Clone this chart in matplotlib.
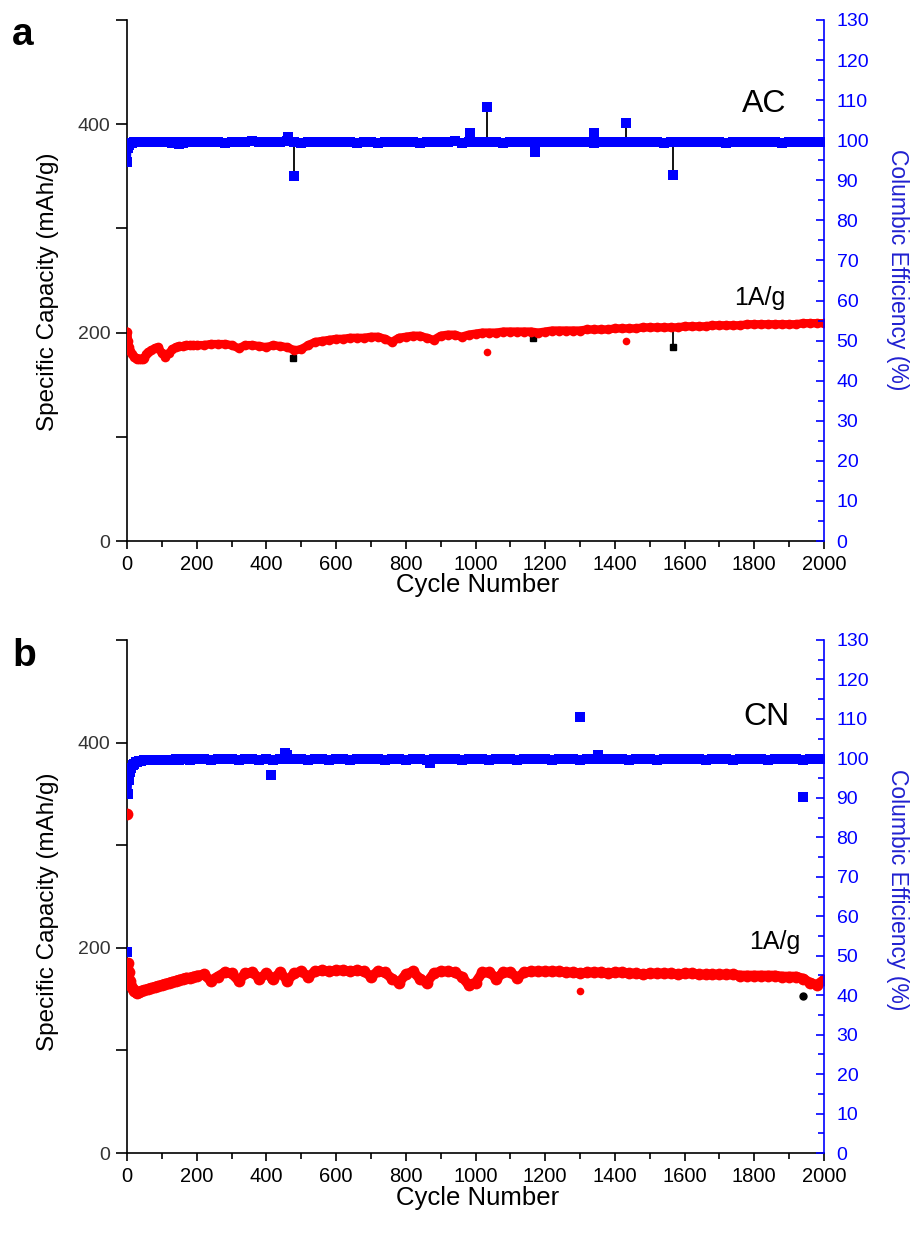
import numpy as np
import matplotlib
matplotlib.use('Agg')
from matplotlib import pyplot as plt
from matplotlib.ticker import MultipleLocator, FixedLocator

plt.rcParams['font.family'] = ['Liberation Sans', 'DejaVu Sans']

VERMELHO = '#ff0000'
AZUL = '#0000ff'
LARGURA, ALTURA = 916, 1236

# ---------------- painel a (AC) ----------------
ciclos_ini_a = [1, 3, 6, 10, 15, 20, 25, 30, 35, 40, 45, 50, 55, 60, 70,
                80, 90, 100, 110, 120, 130, 140, 150, 160, 170, 180, 190, 200]
ciclos_grade = list(range(220, 2001, 20))

cap_ini_a = [201, 192, 186, 182, 179, 177, 176, 175, 175, 175, 175, 176, 179, 181, 183,
             185, 186, 180, 177, 180, 184, 186, 187, 187, 188, 188, 188, 188]
cap_grade_a = [188, 189, 189, 189, 188, 185, 188, 188, 187, 186,
               188, 187, 186, 183, 184, 188, 191, 192, 193, 194,
               194, 195, 195, 195, 196, 196, 194, 191, 195, 196,
               197, 197, 195, 193, 197, 198, 198, 196, 198, 199,
               200, 200, 200, 201, 201, 201, 201, 201, 200, 201,
               202, 202, 202, 202, 202, 203, 203, 203, 203, 204,
               204, 204, 204, 205, 205, 205, 205, 205, 205, 206,
               206, 206, 206, 207, 207, 207, 207, 207, 208, 208,
               208, 208, 208, 208, 208, 208, 209, 209, 209, 209]
cap_verm_fora_ciclos_a = [1033, 1432]
cap_verm_fora_a = [181, 192]
cap_preto_fora_ciclos_a = [477, 1166, 1566]
cap_preto_fora_a = [176, 195, 186]

ce_ini_a = [94.5, 98.0, 98.8, 99.2, 99.4, 99.5, 99.6, 99.6, 99.5, 99.6, 99.5, 99.6, 99.6, 99.5, 99.5,
            99.6, 99.5, 99.6, 99.6, 99.5, 99.4, 99.5, 99.0, 99.4, 99.5, 99.6, 99.5, 99.6]
ce_grade_a = [99.5, 99.6, 99.5, 99.4, 99.5, 99.6, 99.5, 99.7, 99.6, 99.5,
              99.6, 99.5, 99.7, 99.5, 99.4, 99.6, 99.5, 99.5, 99.6, 99.5,
              99.6, 99.5, 99.4, 99.5, 99.6, 99.2, 99.5, 99.6, 99.5, 99.6,
              99.5, 99.4, 99.6, 99.5, 99.5, 99.6, 99.7, 99.4, 99.5, 99.6,
              99.5, 99.6, 99.5, 99.4, 99.6, 99.5, 99.5, 99.6, 99.5, 99.6,
              99.5, 99.6, 99.5, 99.5, 99.6, 99.5, 99.4, 99.6, 99.5, 99.6,
              99.5, 99.6, 99.5, 99.5, 99.6, 99.5, 99.4, 99.5, 99.6, 99.5,
              99.6, 99.5, 99.5, 99.6, 99.5, 99.4, 99.6, 99.5, 99.5, 99.6,
              99.5, 99.6, 99.5, 99.4, 99.6, 99.5, 99.5, 99.6, 99.5, 99.6]
ce_fora_ciclos_a = [462, 480, 984, 1033, 1171, 1340, 1432, 1566]
ce_fora_a = [100.8, 91.0, 101.9, 108.4, 97.1, 101.8, 104.3, 91.3]

# ---------------- painel b (CN) ----------------
ciclos_ini_b = [1, 3, 5, 8, 12, 16, 20, 25, 30, 35, 40, 50, 60, 70, 80,
                90, 100, 110, 120, 130, 140, 150, 160, 170, 180, 190, 200]

cap_ini_b = [330, 185, 176, 168, 163, 160, 158, 157, 156, 157, 158, 159, 160, 161, 162,
             163, 164, 165, 166, 167, 168, 169, 170, 171, 171, 172, 173]
cap_grade_b = [174, 168, 172, 176, 175, 168, 175, 176, 170, 175,
               170, 176, 168, 175, 177, 172, 177, 178, 177, 178,
               178, 177, 178, 177, 172, 177, 176, 170, 166, 174,
               177, 170, 166, 175, 177, 177, 176, 172, 164, 166,
               176, 176, 170, 176, 176, 171, 176, 177, 177, 177,
               177, 177, 176, 176, 175, 176, 176, 176, 175, 176,
               176, 175, 175, 174, 175, 175, 175, 175, 174, 175,
               175, 174, 174, 174, 174, 174, 174, 173, 173, 173,
               173, 173, 173, 172, 172, 172, 170, 166, 164, 169]
cap_verm_fora_ciclos_b = [1300]
cap_verm_fora_b = [158]
cap_preto_fora_ciclos_b = [412, 1940]
cap_preto_fora_b = [170, 153]

ce_ini_b = [51.0, 91.0, 94.5, 96.5, 97.6, 98.2, 98.6, 99.0, 99.2, 99.3, 99.4, 99.5, 99.5, 99.6, 99.6,
            99.6, 99.7, 99.7, 99.7, 99.7, 99.8, 99.7, 99.8, 99.8, 99.7, 99.8, 99.8]
ce_grade_b = [99.8, 99.7, 99.8, 99.9, 99.8, 99.7, 99.8, 99.8, 99.6, 99.8,
              99.7, 99.8, 99.8, 99.9, 99.8, 99.7, 99.8, 99.8, 99.7, 99.8,
              99.8, 99.7, 99.8, 99.8, 99.9, 99.8, 99.7, 99.8, 99.8, 99.7,
              99.8, 99.8, 99.7, 99.8, 99.8, 99.9, 99.8, 99.7, 99.8, 99.8,
              99.8, 99.7, 99.8, 99.8, 99.8, 99.7, 99.8, 99.9, 99.8, 99.8,
              99.7, 99.8, 99.8, 99.8, 99.7, 99.8, 99.8, 99.9, 99.8, 99.8,
              99.8, 99.7, 99.8, 99.8, 99.8, 99.7, 99.8, 99.8, 99.8, 99.9,
              99.8, 99.8, 99.7, 99.8, 99.8, 99.8, 99.7, 99.8, 99.8, 99.8,
              99.8, 99.7, 99.8, 99.8, 99.8, 99.8, 99.7, 99.8, 99.8, 99.8]
ce_fora_ciclos_b = [412, 453, 460, 870, 1300, 1352, 1940]
ce_fora_b = [95.8, 101.4, 100.8, 98.9, 110.5, 100.9, 90.2]


def px(x, y):
    return x / LARGURA, 1 - y / ALTURA


def desenharPainel(fig, caixa, ciclos, cap, cv_c, cv_v, cp_c, cp_v, ce, cef_c, cef_v,
                   marcador_preto, hastes, tam_verm, lw_verm, ini_linha, topo):
    ax = fig.add_axes(caixa)
    ax2 = ax.twinx()

    # capacidade: pontos pretos (carga) por baixo, vermelhos (descarga) por cima
    if hastes:
        base = np.interp(cp_c, ciclos, cap)
        ax.vlines(cp_c, base, cp_v, color='black', lw=1.3, zorder=2)
    ax.plot(cp_c, cp_v, marcador_preto, color='black', ms=5, zorder=2)
    ax.plot(ciclos[ini_linha:], cap[ini_linha:], '-', color=VERMELHO, lw=lw_verm,
            solid_capstyle='round', zorder=3)
    ax.plot(ciclos, cap, 'o', color=VERMELHO, ms=tam_verm, mew=0, zorder=3)
    ax.plot(cv_c, cv_v, 'o', color=VERMELHO, ms=5.5, mew=0, zorder=3)

    # eficiencia coulombica
    if hastes:
        base = np.interp(cef_c, ciclos, ce)
        ax2.vlines(cef_c, base, cef_v, color='black', lw=1.3, zorder=2)
    ax2.plot(ciclos[ini_linha:], ce[ini_linha:], '-', color=AZUL, lw=5, zorder=3)
    ax2.plot(ciclos, ce, 's', color=AZUL, ms=6.5, mew=0, zorder=3)
    ax2.plot(cef_c, cef_v, 's', color=AZUL, ms=6.5, mew=0, zorder=3)

    ax.set_xlim(0, 2000)
    ax.set_ylim(0, 500)
    ax2.set_ylim(0, 130)

    for s in ['top', 'right']:
        ax.spines[s].set_visible(False)
    ax2.spines['top'].set_visible(False)
    for s in ['left', 'bottom']:
        ax2.spines[s].set_visible(False)
        ax.spines[s].set_linewidth(1.2)
    ax2.spines['right'].set_color(AZUL)
    ax2.spines['right'].set_linewidth(1.2)

    ax.xaxis.set_major_locator(MultipleLocator(200))
    ax.xaxis.set_minor_locator(MultipleLocator(100))
    ax.yaxis.set_major_locator(FixedLocator([0, 200, 400]))
    ax.yaxis.set_minor_locator(FixedLocator([100, 300, 500]))
    ax.tick_params(axis='x', which='major', direction='out', length=6, width=1.2, labelsize=14.5, pad=4)
    ax.tick_params(axis='x', which='minor', direction='out', length=4, width=1.2)
    ax.tick_params(axis='y', which='major', direction='out', length=8, width=1.2, labelsize=14,
                   pad=4, labelcolor='#333333')
    ax.tick_params(axis='y', which='minor', direction='out', length=8, width=1.2)

    ax2.yaxis.set_major_locator(MultipleLocator(10))
    ax2.yaxis.set_minor_locator(MultipleLocator(5))
    ax2.tick_params(axis='y', which='major', direction='in', length=6, width=1.2,
                    colors=AZUL, labelsize=14, pad=9)
    ax2.tick_params(axis='y', which='minor', direction='in', length=4, width=1.2, colors=AZUL)

    fig.text(*px(48, topo + 272), 'Specific Capacity (mAh/g)', rotation=90,
             ha='center', va='center', fontsize=17.5)
    fig.text(*px(897, topo + 250), 'Columbic Efficiency (%)', rotation=270,
             ha='center', va='center', fontsize=16.5, color='#2020d0')
    return ax, ax2


def main():
    fig = plt.figure(figsize=(LARGURA / 100, ALTURA / 100), dpi=100)

    ciclos_a = ciclos_ini_a + ciclos_grade
    ciclos_b = ciclos_ini_b + ciclos_grade

    desenharPainel(fig, [127 / LARGURA, 1 - 541 / ALTURA, 697 / LARGURA, 521 / ALTURA],
                   ciclos_a, cap_ini_a + cap_grade_a,
                   cap_verm_fora_ciclos_a, cap_verm_fora_a,
                   cap_preto_fora_ciclos_a, cap_preto_fora_a,
                   ce_ini_a + ce_grade_a, ce_fora_ciclos_a, ce_fora_a,
                   's', True, 7, 6, 0, 20)
    desenharPainel(fig, [127 / LARGURA, 1 - 1153 / ALTURA, 697 / LARGURA, 513 / ALTURA],
                   ciclos_b, cap_ini_b + cap_grade_b,
                   cap_verm_fora_ciclos_b, cap_verm_fora_b,
                   cap_preto_fora_ciclos_b, cap_preto_fora_b,
                   ce_ini_b + ce_grade_b, ce_fora_ciclos_b, ce_fora_b,
                   'o', False, 8.5, 7, 1, 640)

    fig.text(*px(478, 573), 'Cycle Number', ha='center', va='top', fontsize=18.5)
    fig.text(*px(478, 1186), 'Cycle Number', ha='center', va='top', fontsize=18.5)

    fig.text(*px(12, 45), 'a', fontsize=28, fontweight='bold', ha='left', va='baseline')
    fig.text(*px(12, 666), 'b', fontsize=28, fontweight='bold', ha='left', va='baseline')

    fig.text(*px(786, 104), 'AC', fontsize=23, ha='right', va='center')
    fig.text(*px(790, 717), 'CN', fontsize=23, ha='right', va='center')
    fig.text(*px(785, 298), '1A/g', fontsize=18, ha='right', va='center')
    fig.text(*px(800, 942), '1A/g', fontsize=18, ha='right', va='center')

    fig.savefig('out.png', dpi=100)


if __name__ == "__main__":
    main()
